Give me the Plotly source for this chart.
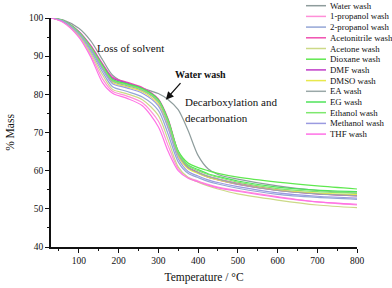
import plotly.graph_objects as go

temps = [30, 60, 100, 130, 160, 185, 220, 260, 300, 325, 350, 375, 400, 425, 450, 500, 600, 700, 800]

names = ["Water wash", "1-propanol wash", "2-propanol wash", "Acetonitrile wash", "Acetone wash",
         "Dioxane wash", "DMF wash", "DMSO wash", "EA wash", "EG wash", "Ethanol wash",
         "Methanol wash", "THF wash"]
colors = ["#8e9c9c", "#ff8fd8", "#94a6d6", "#f050b0", "#ccd987", "#5fe84f", "#c03cc8",
          "#e8e84c", "#9aa8a8", "#4fe35a", "#7ee86e", "#9a9ae0", "#ff70e6"]

water = [100, 99.5, 97.3, 94.0, 89.0, 85.0, 82.8, 81.6, 80.2, 78.6, 76.0, 70.5, 64.0, 60.5, 59.0, 57.8, 56.0, 54.8, 54.1]
propanol1 = [100, 99.0, 95.2, 90.3, 84.0, 80.8, 79.6, 77.8, 73.0, 66.5, 60.5, 58.3, 57.3, 56.4, 55.7, 54.8, 53.2, 51.8, 51.0]
propanol2 = [100, 99.1, 95.6, 91.2, 85.8, 82.0, 80.8, 79.3, 75.8, 69.5, 62.3, 59.3, 58.2, 57.2, 56.5, 55.4, 53.8, 53.0, 52.5]
acetonitrile = [100, 99.3, 96.5, 92.8, 88.0, 84.5, 83.2, 81.8, 78.8, 73.5, 65.0, 61.0, 59.6, 58.5, 57.8, 56.7, 55.0, 54.0, 53.4]
acetone = [100, 99.0, 95.4, 90.8, 85.0, 81.3, 80.2, 78.6, 74.5, 68.0, 61.0, 58.2, 57.0, 56.0, 55.2, 53.9, 52.3, 51.0, 50.3]
dioxane = [100, 99.3, 96.3, 92.4, 87.4, 83.8, 82.7, 81.4, 78.5, 73.0, 65.2, 62.0, 60.8, 60.0, 59.3, 58.3, 57.0, 56.0, 55.2]
dmf = [100, 99.3, 96.4, 92.6, 87.7, 84.2, 83.0, 81.6, 78.6, 73.0, 64.5, 60.8, 59.4, 58.3, 57.6, 56.4, 54.8, 53.9, 53.5]
dmso = [100, 99.2, 96.0, 91.9, 86.8, 83.1, 82.0, 80.7, 77.5, 71.5, 63.8, 60.5, 59.3, 58.3, 57.6, 56.5, 54.9, 54.1, 53.7]
ea = [100, 99.2, 96.1, 92.1, 87.0, 83.4, 82.3, 81.0, 78.0, 72.3, 64.3, 60.8, 59.5, 58.5, 57.8, 56.5, 54.8, 53.9, 53.4]
eg = [100, 99.3, 96.3, 92.4, 87.5, 83.9, 82.8, 81.5, 78.6, 73.2, 65.0, 61.5, 60.3, 59.2, 58.5, 57.3, 55.7, 54.9, 54.5]
ethanol = [100, 99.3, 96.2, 92.3, 87.2, 83.6, 82.5, 81.2, 78.3, 72.8, 64.8, 61.3, 60.0, 59.0, 58.3, 57.0, 55.3, 54.5, 54.1]
methanol = [100, 99.2, 95.9, 91.7, 86.5, 82.8, 81.7, 80.3, 77.0, 71.0, 63.2, 59.8, 58.6, 57.6, 56.9, 55.8, 54.2, 53.3, 52.8]
thf = [100, 98.9, 95.0, 89.8, 83.0, 80.3, 79.0, 77.0, 71.5, 65.0, 60.0, 58.0, 57.1, 56.2, 55.5, 54.6, 53.0, 51.8, 51.2]

series = [water, propanol1, propanol2, acetonitrile, acetone, dioxane, dmf, dmso, ea, eg, ethanol, methanol, thf]

y_ticks = [40, 50, 60, 70, 80, 90, 100]
x_ticks = [100, 200, 300, 400, 500, 600, 700, 800]

FONT = "Liberation Serif, Times New Roman, serif"

fig = go.Figure()
for name, col, vals in zip(names, colors, series):
    fig.add_trace(go.Scatter(x=temps, y=vals, mode="lines", name=name,
                             line=dict(color=col, width=1.2, shape="spline", smoothing=0.8),
                             showlegend=False))

# manual compact legend
shapes = []
annotations = []
L, R, T, B = 51, 357, 18, 247
pw, ph = R - L, B - T
def px2paper_x(px):
    return (px - L) / pw
def px2paper_y(py):
    return (B - py) / ph
for i, (name, col) in enumerate(zip(names, colors)):
    py = 5.7 + i * 10.7
    shapes.append(dict(type="line", xref="paper", yref="paper",
                       x0=px2paper_x(306), x1=px2paper_x(326),
                       y0=px2paper_y(py), y1=px2paper_y(py),
                       line=dict(color=col, width=1.5)))
    annotations.append(dict(xref="paper", yref="paper", x=px2paper_x(328), y=px2paper_y(py),
                            text=name, showarrow=False, xanchor="left", yanchor="middle",
                            font=dict(family=FONT, size=8.8, color="#111")))

annotations += [
    dict(x=231, y=92.1, xref="x", yref="y", text="Loss of solvent", showarrow=False,
         font=dict(family=FONT, size=11, color="#111")),
    dict(x=407, y=85.1, xref="x", yref="y", text="<b>Water wash</b>", showarrow=False,
         xanchor="center", font=dict(family=FONT, size=10, color="#111")),
    dict(x=319, y=78.6, xref="x", yref="y", ax=16, ay=-18, text="", showarrow=True,
         arrowhead=2, arrowsize=1.2, arrowwidth=1.3, arrowcolor="#111"),
    dict(x=362, y=78.0, xref="x", yref="y", text="Decarboxylation and", showarrow=False,
         xanchor="left", font=dict(family=FONT, size=11, color="#111")),
    dict(x=362, y=73.8, xref="x", yref="y", text="decarbonation", showarrow=False,
         xanchor="left", font=dict(family=FONT, size=11, color="#111")),
]

fig.update_layout(
    width=392, height=288,
    margin=dict(l=L, r=392 - R, t=T, b=288 - B),
    paper_bgcolor="white", plot_bgcolor="white",
    showlegend=False,
    shapes=shapes, annotations=annotations,
    font=dict(family=FONT, size=9.5, color="#111"),
)
fig.update_xaxes(range=[30, 800], tickvals=x_ticks, ticks="outside", ticklen=4, tickwidth=1,
                 showline=True, linecolor="#111", linewidth=1.5, showgrid=False, zeroline=False,
                 automargin=False,
                 minor=dict(dtick=50, tick0=0, ticks="outside", ticklen=2.5, tickwidth=1, tickcolor="#111"),
                 tickcolor="#111",
                 title=dict(text="Temperature / °C", font=dict(family=FONT, size=11.5), standoff=8),
                 tickfont=dict(family=FONT, size=9.5))
fig.update_yaxes(range=[40, 100], tickvals=y_ticks, ticks="outside", ticklen=4, tickwidth=1,
                 showline=True, linecolor="#111", linewidth=1.5, showgrid=False, zeroline=False,
                 automargin=False,
                 minor=dict(dtick=5, tick0=0, ticks="outside", ticklen=2.5, tickwidth=1, tickcolor="#111"),
                 tickcolor="#111",
                 title=dict(text="% Mass", font=dict(family=FONT, size=11.5), standoff=12),
                 tickfont=dict(family=FONT, size=9.5))

fig.write_html("out.html", config={"displayModeBar": False},
               post_script="document.body.style.margin='0';document.body.style.overflow='hidden';")
